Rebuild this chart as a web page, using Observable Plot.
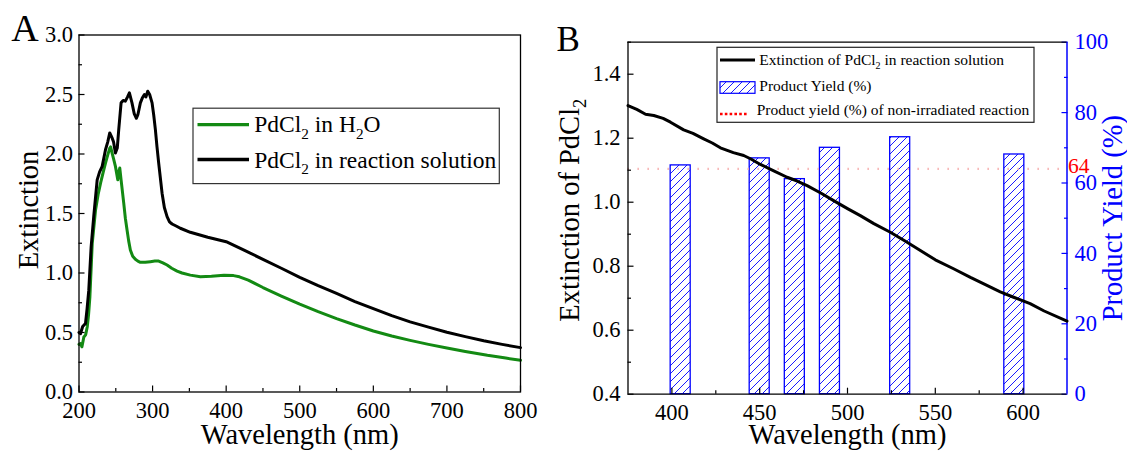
<!DOCTYPE html>
<html><head><meta charset="utf-8">
<script src="https://cdn.jsdelivr.net/npm/d3@7"></script>
<script src="https://cdn.jsdelivr.net/npm/@observablehq/plot@0.6"></script>
<style>
html,body{margin:0;padding:0;background:#fff;}
#root{position:relative;width:1127px;height:453px;overflow:hidden;font-family:"Liberation Serif","Times New Roman",serif;}
#root svg{position:absolute;top:0;}
</style></head>
<body><div id="root"></div>
<script>
// ---------- Panel A data ----------
const greenWl = [200,202,204,206.6,209,211.2,213,214.8,218,222.5,226,229.3,233,236,239,241.8,243,245,247,249.5,252.7,254,255.4,257.2,260.8,263,265.3,267.5,269.8,273,276.6,280,283.4,290,297,303,308.3,314,319.7,326,333.3,340,351.3,365,380,397,410,418,430,450,475,500,525,550,575,600,625,650,675,700,725,755,780,800];
const greenExt = [0.40,0.406,0.38,0.462,0.48,0.546,0.65,0.80,1.25,1.53,1.66,1.755,1.85,1.924,1.99,2.05,2.06,2.008,1.96,1.896,1.783,1.85,1.882,1.783,1.587,1.46,1.362,1.27,1.193,1.14,1.115,1.10,1.09,1.09,1.095,1.10,1.10,1.085,1.067,1.04,1.016,1.0,0.982,0.968,0.972,0.982,0.978,0.968,0.94,0.878,0.806,0.738,0.675,0.617,0.563,0.513,0.47,0.434,0.40,0.369,0.34,0.308,0.285,0.267];
const blackWl = [200,202,205,208.8,211,213.3,216.5,220,224.7,228,231.5,236,239,241.8,245,247,249.5,252,254,257.2,260,263,266,268.5,272,275,278,280,283.4,286,288.9,291,293.4,296,299.3,301.5,303.8,306,308.3,312.9,316,319.7,323,326.5,332,337.7,351.3,375,400,425,450,475,500,525,550,575,600,625,650,675,700,725,750,775,800];
const blackExt = [0.50,0.49,0.55,0.575,0.70,0.856,1.22,1.474,1.783,1.85,1.896,2.036,2.10,2.177,2.135,2.10,2.008,2.05,2.205,2.43,2.45,2.444,2.48,2.514,2.43,2.34,2.30,2.33,2.43,2.47,2.50,2.48,2.528,2.50,2.43,2.33,2.205,2.06,1.924,1.671,1.55,1.474,1.43,1.412,1.395,1.376,1.342,1.30,1.263,1.19,1.115,1.04,0.963,0.893,0.828,0.76,0.70,0.642,0.589,0.545,0.502,0.465,0.43,0.40,0.373];
const xDomainA = [200, 800];
const yDomainA = [0, 3];
const xTicksA = [200,300,400,500,600,700,800];
const xMinorA = [250,350,450,550,650,750];
const yTicksA = [0,0.5,1,1.5,2,2.5,3];
const yMinorA = [0.25,0.75,1.25,1.75,2.25,2.75];
const legendA = ["PdCl₂ in H₂O", "PdCl₂ in reaction solution"];

// ---------- Panel B data ----------
const lineBWl = [375,380,385,389.7,395,399.2,406.7,412,418.1,423,427.6,435,440.9,445,450.4,458,465.6,471,477,485,492.1,500,507.3,515,524.4,533,541.5,550,560.4,570,579.4,587,594.6,604,612,625];
const lineBExt = [1.302,1.29,1.275,1.271,1.262,1.25,1.226,1.215,1.198,1.185,1.17,1.155,1.146,1.135,1.118,1.098,1.078,1.067,1.052,1.028,1.005,0.98,0.958,0.933,0.906,0.878,0.849,0.82,0.792,0.765,0.74,0.72,0.703,0.683,0.66,0.628];
const ledWl = [405,450,470,490,530,595];
const yieldPct = [65.0,67.0,61.1,70.0,73.0,68.1];
const nonIrradiatedYield = 64;
const xDomainB = [375, 625];
const yDomainB = [0.4, 1.5];
const yDomainR = [0, 100];
const xTicksB = [400,450,500,550,600];
const xMinorB = [425,475,525,575];
const yTicksB = [0.4,0.6,0.8,1.0,1.2,1.4];
const yMinorB = [0.5,0.7,0.9,1.1,1.3,1.5];
const yTicksR = [0,20,40,60,80,100];
const yMinorR = [10,30,50,70,90];
const legendB = ["Extinction of PdCl₂ in reaction solution", "Product Yield (%)", "Product yield (%) of non-irradiated reaction"];

// ---------- tables ----------
const green = d3.zip(greenWl, greenExt).map(([wl, ext]) => ({wl, ext}));
const black = d3.zip(blackWl, blackExt).map(([wl, ext]) => ({wl, ext}));
const lineB = d3.zip(lineBWl, lineBExt).map(([wl, ext]) => ({wl, ext}));
const bars = d3.zip(ledWl, yieldPct).map(([wl, y]) => ({wl, y}));
const barHalf = 5.7;

const FONT = "Liberation Serif";
const TICK = 22.5, TITLE = 28.5;
const baseStyle = {fontFamily: FONT, fontSize: "22px", background: "transparent", overflow: "visible", color: "black"};
const root = document.getElementById("root");
const ns = "http://www.w3.org/2000/svg";

function addHatch(svg, id) {
  const defs = d3.select(svg).insert("defs", ":first-child");
  const p = defs.append("pattern").attr("id", id).attr("patternUnits", "userSpaceOnUse")
    .attr("width", 8).attr("height", 8);
  p.append("rect").attr("width", 8).attr("height", 8).attr("fill", "white");
  p.append("path").attr("d", "M-2,2L2,-2M0,8L8,0M6,10L10,6").attr("stroke", "blue").attr("stroke-width", 0.9);
}

function subscriptify(el) {
  el.querySelectorAll("text").forEach(t => {
    if (!t.textContent.includes("₂")) return;
    const fs = parseFloat(getComputedStyle(t).fontSize);
    const parts = t.textContent.split("₂");
    while (t.firstChild) t.removeChild(t.firstChild);
    parts.forEach((p, i) => {
      if (i > 0) {
        const s = document.createElementNS(ns, "tspan");
        s.setAttribute("font-size", fs * 0.65);
        s.setAttribute("dy", fs * 0.28);
        s.textContent = "2";
        t.appendChild(s);
      }
      if (p) {
        const s = document.createElementNS(ns, "tspan");
        if (i > 0) s.setAttribute("dy", -fs * 0.28);
        s.textContent = p;
        t.appendChild(s);
      }
    });
  });
}

// ---------- Panel A ----------
const plotA = Plot.plot({
  width: 540, height: 453,
  marginLeft: 78.5, marginRight: 20, marginTop: 34.5, marginBottom: 61.5,
  x: {domain: xDomainA},
  y: {domain: yDomainA},
  style: baseStyle,
  marks: [
    Plot.line(green, {x: "wl", y: "ext", stroke: "#138a13", strokeWidth: 3}),
    Plot.line(black, {x: "wl", y: "ext", stroke: "#000", strokeWidth: 3}),
    Plot.frame({stroke: "#000", strokeWidth: 1.3}),
    Plot.axisX({ticks: xTicksA, tickSize: -6, tickPadding: 16.3, fontSize: TICK, label: null, strokeWidth: 1.2}),
    Plot.axisX({ticks: xMinorA, tickSize: -3.5, tickFormat: () => "", label: null, strokeWidth: 1.2}),
    Plot.axisY({ticks: yTicksA, tickSize: -6, tickPadding: 12, fontSize: TICK, tickFormat: d3.format(".1f"), label: null, strokeWidth: 1.2}),
    Plot.axisY({ticks: yMinorA, tickSize: -3.5, tickFormat: () => "", label: null, strokeWidth: 1.2}),
    Plot.text(["Wavelength (nm)"], {frameAnchor: "bottom", dy: 51.5, fontSize: TITLE, textAnchor: "middle", lineAnchor: "bottom"}),
    Plot.text(["Extinction"], {frameAnchor: "left", rotate: -90, dx: -41.5, dy: -3.5, fontSize: TITLE, textAnchor: "middle", lineAnchor: "bottom"}),
    Plot.text(["A"], {frameAnchor: "top-left", dx: -67.8, dy: 5.5, fontSize: 38, textAnchor: "start", lineAnchor: "bottom"})
  ]
});
plotA.style.left = "0px";

// ---------- Panel B: bars + right axis ----------
const plotB2 = Plot.plot({
  width: 587, height: 453,
  marginLeft: 87.5, marginRight: 60.5, marginTop: 41.7, marginBottom: 59.3,
  x: {domain: xDomainB, axis: null},
  y: {domain: yDomainR},
  style: baseStyle,
  marks: [
    Plot.rectY(bars, {x1: d => d.wl - barHalf, x2: d => d.wl + barHalf, y: "y", fill: "url(#hatchB)", stroke: "blue", strokeWidth: 1.3}),
    Plot.ruleY([nonIrradiatedYield], {stroke: "#f5a8a8", strokeWidth: 2.2, strokeDasharray: "1.3,8.7"}),
    Plot.ruleX([xDomainB[1]], {stroke: "blue", strokeWidth: 1.5}),
    Plot.axisY({anchor: "right", ticks: yTicksR, tickSize: -6, tickPadding: 13.5, fontSize: TICK, label: null, color: "blue", stroke: "blue", fill: "blue", strokeWidth: 1.2}),
    Plot.axisY({anchor: "right", ticks: yMinorR, tickSize: -3.5, tickFormat: () => "", label: null, stroke: "blue", strokeWidth: 1.2}),
    Plot.text([nonIrradiatedYield], {y: d => d, text: d => String(d), frameAnchor: "right", dx: 1, dy: -2.5, textAnchor: "start", fill: "red", fontSize: 21.5}),
    Plot.text(["Product Yield (%)"], {frameAnchor: "right", rotate: -90, dx: 54.5, fill: "blue", fontSize: TITLE, textAnchor: "middle", lineAnchor: "bottom"})
  ]
});
addHatch(plotB2, "hatchB");
plotB2.style.left = "540px";

// ---------- Panel B: extinction line + left axis ----------
const plotB1 = Plot.plot({
  width: 587, height: 453,
  marginLeft: 87.5, marginRight: 60.5, marginTop: 41.7, marginBottom: 59.3,
  x: {domain: xDomainB},
  y: {domain: yDomainB},
  style: baseStyle,
  marks: [
    Plot.line(lineB, {x: "wl", y: "ext", stroke: "#000", strokeWidth: 3}),
    Plot.ruleX([xDomainB[0]], {stroke: "#000", strokeWidth: 1.3}),
    Plot.ruleY([yDomainB[0]], {stroke: "#000", strokeWidth: 1.3}),
    Plot.ruleY([yDomainB[1]], {stroke: "#000", strokeWidth: 1.3}),
    Plot.axisX({ticks: xTicksB, tickSize: -6, tickPadding: 16.3, fontSize: TICK, label: null, strokeWidth: 1.2}),
    Plot.axisX({ticks: xMinorB, tickSize: -3.5, tickFormat: () => "", label: null, strokeWidth: 1.2}),
    Plot.axisY({ticks: yTicksB, tickSize: -6, tickPadding: 13.5, fontSize: TICK, tickFormat: d3.format(".1f"), label: null, strokeWidth: 1.2}),
    Plot.axisY({ticks: yMinorB, tickSize: -3.5, tickFormat: () => "", label: null, strokeWidth: 1.2}),
    Plot.text(["Wavelength (nm)"], {frameAnchor: "bottom", dy: 49.3, fontSize: TITLE, textAnchor: "middle", lineAnchor: "bottom"}),
    Plot.text(["Extinction of PdCl₂"], {frameAnchor: "left", rotate: -90, dx: -49.5, dy: -8, fontSize: TITLE, textAnchor: "middle", lineAnchor: "bottom"}),
    Plot.text(["B"], {frameAnchor: "top-left", dx: -71.5, dy: 8.3, fontSize: 35, textAnchor: "start", lineAnchor: "bottom"})
  ]
});
plotB1.style.left = "540px";

root.appendChild(plotA);
root.appendChild(plotB2);
root.appendChild(plotB1);

// ---------- Legends ----------
const leg = d3.create("svg").attr("width", 1127).attr("height", 453)
  .style("left", "0px").style("pointer-events", "none")
  .attr("font-family", FONT);
const legNode = leg.node();
addHatch(legNode, "hatchL");

// Legend A
leg.append("rect").attr("x", 193).attr("y", 108.2).attr("width", 306.3).attr("height", 75.4)
  .attr("fill", "white").attr("stroke", "#333").attr("stroke-width", 1.2);
leg.append("line").attr("x1", 197.5).attr("x2", 249).attr("y1", 124.7).attr("y2", 124.7)
  .attr("stroke", "#138a13").attr("stroke-width", 3.2);
leg.append("text").attr("x", 254.3).attr("y", 132.4).attr("font-size", 23.5).text(legendA[0]);
leg.append("line").attr("x1", 197.5).attr("x2", 249).attr("y1", 159.4).attr("y2", 159.4)
  .attr("stroke", "#000").attr("stroke-width", 3.5);
leg.append("text").attr("x", 254.3).attr("y", 167.8).attr("font-size", 23.5).text(legendA[1]);

// Legend B
leg.append("rect").attr("x", 717).attr("y", 47.3).attr("width", 317).attr("height", 75)
  .attr("fill", "white").attr("stroke", "#222").attr("stroke-width", 1.2);
leg.append("line").attr("x1", 720).attr("x2", 755).attr("y1", 60).attr("y2", 60)
  .attr("stroke", "#000").attr("stroke-width", 3);
leg.append("text").attr("x", 759.3).attr("y", 65).attr("font-size", 15.5).text(legendB[0]);
leg.append("rect").attr("x", 720).attr("y", 81.7).attr("width", 35).attr("height", 11.6)
  .attr("fill", "url(#hatchL)").attr("stroke", "blue").attr("stroke-width", 1.2);
leg.append("text").attr("x", 759.3).attr("y", 90.7).attr("font-size", 15.5).text(legendB[1]);
leg.append("line").attr("x1", 720).attr("x2", 748).attr("y1", 114).attr("y2", 114)
  .attr("stroke", "red").attr("stroke-width", 2.6).attr("stroke-dasharray", "2.6,2.2");
leg.append("text").attr("x", 756.7).attr("y", 115).attr("font-size", 15.5).text(legendB[2]);

root.appendChild(legNode);

subscriptify(root);
</script>
</body></html>
